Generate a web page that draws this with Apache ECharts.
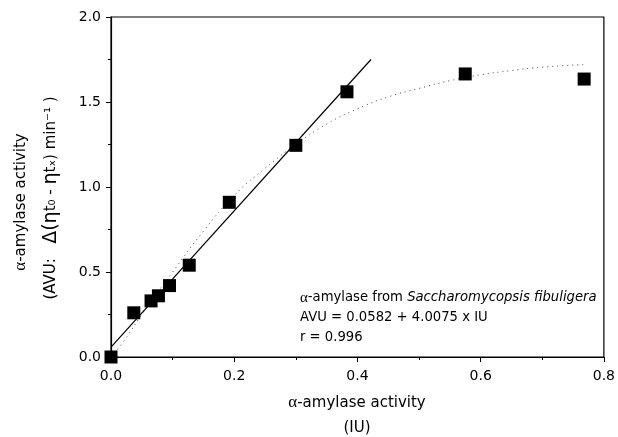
<!DOCTYPE html>
<html>
<head>
<meta charset="utf-8">
<script src="https://cdn.jsdelivr.net/npm/echarts@6/dist/echarts.min.js"></script>
<style>
  html, body { margin: 0; padding: 0; background: #fff; }
  #chart { width: 618px; height: 437px; }
</style>
</head>
<body>
<div id="chart"></div>
<script>
// measured points (IU, AVU)
const pointsIU = [0, 0.037, 0.065, 0.077, 0.095, 0.127, 0.192, 0.300, 0.383, 0.575, 0.768]
const pointsAVU = [0, 0.26, 0.33, 0.36, 0.42, 0.54, 0.91, 1.245, 1.56, 1.665, 1.635]

// linear fit line
const fitIU = [0, 0.422]
const fitAVU = [0.058, 1.75]

// dotted curve
const curveIU = [0, 0.02, 0.05, 0.1, 0.15, 0.2, 0.25, 0.3, 0.35, 0.4, 0.45, 0.5, 0.55, 0.6, 0.65, 0.7, 0.768]
const curveAVU = [0, 0.09, 0.25, 0.5, 0.74, 0.95, 1.11, 1.25, 1.37, 1.46, 1.53, 1.58, 1.625, 1.66, 1.685, 1.705, 1.72]

const xTicks = ['0.0', '0.2', '0.4', '0.6', '0.8']
const yTicks = ['0.0', '0.5', '1.0', '1.5', '2.0']

const zip = (a, b) => a.map((v, i) => [v, b[i]])
const font = '"DejaVu Sans", Verdana, sans-serif'

const chart = echarts.init(document.getElementById('chart'))
chart.setOption({
  animation: false,
  grid: { left: 111, right: 12, top: 17, bottom: 80, show: true, borderColor: '#000', borderWidth: 1.2 },
  xAxis: {
    type: 'value', min: 0, max: 0.8, interval: 0.2,
    axisLine: { show: true, onZero: false, lineStyle: { color: '#000', width: 1.2 } },
    axisTick: { show: true, inside: false, length: 5, lineStyle: { color: '#000' } },
    minorTick: { show: true, splitNumber: 2, length: 3, lineStyle: { color: '#000' } },
    splitLine: { show: false },
    axisLabel: { color: '#000', fontSize: 14, fontFamily: font, margin: 12,
      formatter: v => xTicks[Math.round(v / 0.2)] }
  },
  yAxis: {
    type: 'value', min: 0, max: 2, interval: 0.5,
    axisLine: { show: true, onZero: false, lineStyle: { color: '#000', width: 1.2 } },
    axisTick: { show: true, inside: false, length: 5, lineStyle: { color: '#000' } },
    minorTick: { show: true, splitNumber: 2, length: 3, lineStyle: { color: '#000' } },
    splitLine: { show: false },
    axisLabel: { color: '#000', fontSize: 14, fontFamily: font, margin: 10,
      formatter: v => yTicks[Math.round(v / 0.5)] }
  },
  series: [
    {
      type: 'line', data: zip(curveIU, curveAVU), smooth: true, symbol: 'none', z: 1,
      lineStyle: { color: '#444', width: 1, type: [1, 4] }
    },
    {
      type: 'line', data: zip(fitIU, fitAVU), symbol: 'none', z: 2,
      lineStyle: { color: '#000', width: 1.2 }
    },
    {
      type: 'scatter', data: zip(pointsIU, pointsAVU), symbol: 'rect', symbolSize: 13, z: 3,
      itemStyle: { color: '#000', opacity: 1 }
    }
  ],
  graphic: [
    {
      type: 'text', x: 21, y: 202, rotation: Math.PI / 2,
      style: {
        text: '{g|α}{n|-amylase activity}', align: 'center', verticalAlign: 'middle',
        rich: {
          g: { fontFamily: '"Liberation Serif", serif', fontSize: 17, fill: '#000' },
          n: { fontFamily: font, fontSize: 15, fill: '#000' }
        }
      }
    },
    {
      type: 'text', x: 51, y: 198, rotation: Math.PI / 2,
      style: {
        text: '{n|(AVU:   }{b|Δ(η}{n|t₀ - }{b|η}{n|tₓ) min⁻¹ )}', align: 'center', verticalAlign: 'middle',
        rich: {
          n: { fontFamily: font, fontSize: 15, fill: '#000' },
          b: { fontFamily: font, fontSize: 19, fill: '#000' }
        }
      }
    },
    {
      type: 'text', x: 357, y: 403,
      style: {
        text: '{g|α}{n|-amylase activity}', align: 'center', verticalAlign: 'middle',
        rich: {
          g: { fontFamily: '"Liberation Serif", serif', fontSize: 17, fill: '#000' },
          n: { fontFamily: font, fontSize: 15, fill: '#000' }
        }
      }
    },
    {
      type: 'text', x: 357, y: 428,
      style: { text: '(IU)', font: '15px ' + font, fill: '#000', align: 'center', verticalAlign: 'middle' }
    },
    {
      type: 'text', x: 300, y: 298,
      style: {
        text: '{g|α}{n|-amylase from }{i|Saccharomycopsis fibuligera}', verticalAlign: 'middle',
        rich: {
          g: { fontFamily: '"Liberation Serif", serif', fontSize: 15, fill: '#000' },
          n: { fontFamily: font, fontSize: 13.2, fill: '#000' },
          i: { fontFamily: font, fontSize: 13.2, fontStyle: 'italic', fill: '#000' }
        }
      }
    },
    {
      type: 'text', x: 300, y: 318,
      style: { text: 'AVU = 0.0582 + 4.0075 x IU', font: '13.2px ' + font, fill: '#000', verticalAlign: 'middle' }
    },
    {
      type: 'text', x: 300, y: 338,
      style: { text: 'r = 0.996', font: '13.2px ' + font, fill: '#000', verticalAlign: 'middle' }
    }
  ]
})
</script>
</body>
</html>
